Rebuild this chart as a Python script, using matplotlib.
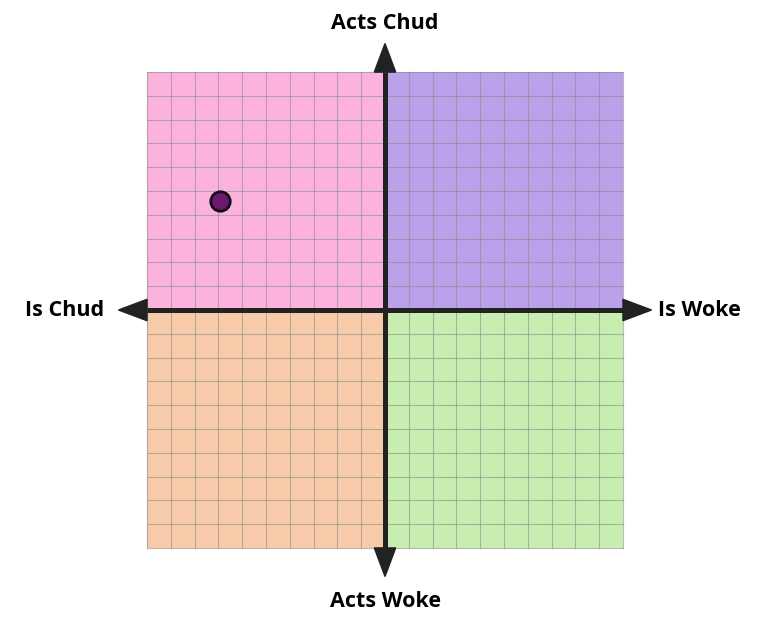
import matplotlib.pyplot as plt
from matplotlib.patches import Rectangle, Polygon

plt.rcParams['font.family'] = ['Open Sans', 'DejaVu Sans']

# quadrant labels and colours
quadrants = ['top_left', 'top_right', 'bottom_left', 'bottom_right']
quad_colors = ['#fbb3de', '#bba0ea', '#f7cba9', '#c7edb1']
axis_labels = ['Acts Chud', 'Acts Woke', 'Is Chud', 'Is Woke']

# point placed on the compass
point_x = [-6.95]
point_y = [4.6]

fig = plt.figure(figsize=(7.7, 6.2), dpi=100)
ax = fig.add_axes([0, 0, 1, 1])
ax.set_xlim(-16.18, 16.18)
ax.set_ylim(-13.03, 13.03)
ax.axis('off')

origins = [(-10, 0), (0, 0), (-10, -10), (0, -10)]
for (x0, y0), c in zip(origins, quad_colors):
    ax.add_patch(Rectangle((x0, y0), 10, 10, facecolor=c, edgecolor='none', zorder=1))

for v in range(-10, 11):
    ax.plot([v, v], [-10, 10], color='#8c8c8c', lw=0.8, alpha=0.6, zorder=2)
    ax.plot([-10, 10], [v, v], color='#8c8c8c', lw=0.8, alpha=0.6, zorder=2)

# main axes with arrowheads
ax.plot([-10, 10], [0, 0], color='#222222', lw=3.6, solid_capstyle='butt', zorder=3)
ax.plot([0, 0], [-10, 10], color='#222222', lw=3.6, solid_capstyle='butt', zorder=3)
hl, hw = 1.2, 0.45
heads = [
    [(10, hw), (10 + hl, 0), (10, -hw)],
    [(-10, hw), (-10 - hl, 0), (-10, -hw)],
    [(hw, 10), (0, 10 + hl), (-hw, 10)],
    [(hw, -10), (0, -10 - hl), (-hw, -10)],
]
for h in heads:
    ax.add_patch(Polygon(h, closed=True, facecolor='#222222', edgecolor='#222222', lw=1, zorder=4))

ax.text(0, 12.05, axis_labels[0], ha='center', va='center', fontsize=15.5, fontweight='bold')
ax.text(0, -12.25, axis_labels[1], ha='center', va='center', fontsize=15.5, fontweight='bold')
ax.text(-13.45, 0, axis_labels[2], ha='center', va='center', fontsize=15.5, fontweight='bold')
ax.text(13.2, 0, axis_labels[3], ha='center', va='center', fontsize=15.5, fontweight='bold')

ax.plot(point_x, point_y, 'o', markersize=14, markerfacecolor='#6a1a6e',
        markeredgecolor='#1a0a1a', markeredgewidth=2, zorder=5)

fig.savefig('out.png', dpi=100)
